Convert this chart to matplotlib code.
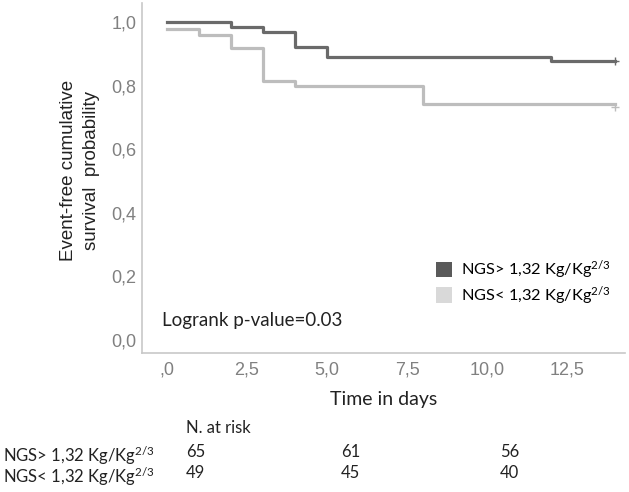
import matplotlib
matplotlib.use('Agg')
import matplotlib.pyplot as plt
from matplotlib.patches import Patch

# Kaplan-Meier step data (time in days, survival)
t_high = [0, 2, 3, 4, 5, 12, 14]
s_high = [1.0, 0.985, 0.969, 0.923, 0.892, 0.877, 0.877]
t_low = [0, 1, 2, 3, 4, 8, 14]
s_low = [0.98, 0.959, 0.918, 0.816, 0.800, 0.742, 0.742]

group_labels = [r'NGS> 1,32 Kg/Kg$^{2/3}$', r'NGS< 1,32 Kg/Kg$^{2/3}$']
risk_high = ['65', '61', '56']
risk_low = ['49', '45', '40']
x_ticks = [0, 2.5, 5, 7.5, 10, 12.5]
x_tick_labels = [',0', '2,5', '5,0', '7,5', '10,0', '12,5']
y_ticks = [0, 0.2, 0.4, 0.6, 0.8, 1.0]
y_tick_labels = ['0,0', '0,2', '0,4', '0,6', '0,8', '1,0']

plt.rcParams['mathtext.fontset'] = 'custom'
plt.rcParams['mathtext.rm'] = 'Lato'
plt.rcParams['mathtext.it'] = 'Lato'

fig = plt.figure(figsize=(6.29, 4.92), dpi=100)
ax = fig.add_axes([0.2258, 0.2825, 0.768, 0.711])

ax.step(t_high, s_high, where='post', color='#6a6a6a', lw=2.3)
ax.step(t_low, s_low, where='post', color='#bdbdbd', lw=2.3)
ax.plot([t_high[-1]], [s_high[-1]], marker='+', ms=6, color='#6a6a6a', mew=1)
ax.plot([t_low[-1]], [s_low[-1] - 0.01], marker='+', ms=6, color='#bdbdbd', mew=1)

ax.set_xlim(-0.78, 14.31)
ax.set_ylim(-0.041, 1.06)
ax.set_xticks(x_ticks)
ax.set_xticklabels(x_tick_labels, family='Liberation Sans', fontsize=13, color='#808080')
ax.set_yticks(y_ticks)
ax.set_yticklabels(y_tick_labels, family='Liberation Sans', fontsize=13, color='#808080')
ax.tick_params(axis='x', length=0, pad=6)
ax.tick_params(axis='y', length=0, pad=4)
for side in ['top', 'right']:
    ax.spines[side].set_visible(False)
for side in ['left', 'bottom']:
    ax.spines[side].set_color('#c8c8c8')
    ax.spines[side].set_linewidth(1.2)

ax.set_xlabel('Time in days', family='Lato', fontsize=14, color='#222222', labelpad=9)
ax.set_ylabel('Event-free cumulative\nsurvival  probability', family='Liberation Sans',
              fontsize=13.5, color='#222222', linespacing=1.4)
ax.yaxis.set_label_coords(-0.088, 0.523)

ax.text(-0.15, 0.045, 'Logrank p-value=0.03', family='Lato', fontsize=13.5, color='#222222')

handles = [Patch(facecolor='#5a5a5a', edgecolor='none'),
           Patch(facecolor='#d9d9d9', edgecolor='none')]
ax.legend(handles, group_labels, loc='upper left', bbox_to_anchor=(0.6087, 0.27),
          frameon=False, prop={'family': 'Lato', 'size': 11.8},
          borderpad=0, borderaxespad=0,
          handlelength=1.0, handleheight=1.1, handletextpad=0.55, labelspacing=0.15)

# Number at risk table
W, H = 629, 492
risk_x = [186, 341, 500]
txt = dict(family='Lato', fontsize=12, color='#222222', va='baseline')
fig.text(186 / W, 1 - 433 / H, 'N. at risk', **txt)
for lab_y, num_y, lab, vals in [(462, 457, group_labels[0], risk_high),
                                (483, 478, group_labels[1], risk_low)]:
    fig.text(3 / W, 1 - lab_y / H, lab, **txt)
    for x, v in zip(risk_x, vals):
        fig.text(x / W, 1 - num_y / H, v, **txt)

fig.savefig('out.png', dpi=100)
